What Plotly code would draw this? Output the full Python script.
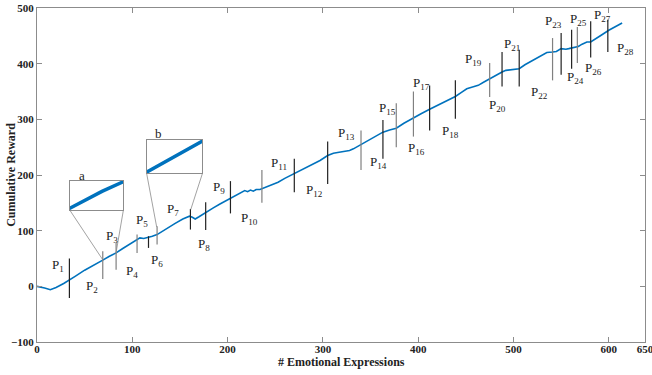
import plotly.graph_objects as go

# ---- data ----
reward_x = [0, 4, 8, 14, 20, 28, 34, 40, 50, 60, 69, 76, 83, 90, 98, 105, 108, 112, 117, 121, 126,
            135, 145, 153, 157, 160, 163, 166, 170, 177, 185, 192, 202, 210, 218, 221, 224, 227, 230,
            234, 240, 247, 253, 260, 270, 280, 290, 297, 305, 311, 317, 323, 328, 332, 336, 341, 350,
            357, 363, 370, 377, 385, 395, 403, 412, 420, 430, 439, 445, 451, 457, 463, 469, 475, 482,
            488, 492, 496, 501, 506, 512, 520, 528, 535, 541, 545, 550, 555, 558, 563, 568, 572, 577,
            581, 586, 592, 600, 607, 614]
reward_y = [0, -1, -3, -6, -2, 5, 11, 18, 29, 38, 47, 54, 60, 68, 76, 83, 87, 86, 88, 90, 93,
            103, 113, 121, 124, 126, 124, 121, 125, 133, 141, 148, 157, 165, 172, 170, 173, 171, 174,
            174, 178, 182, 187, 194, 203, 212, 220, 226, 235, 239, 241, 243, 244, 247, 251, 255, 264,
            271, 277, 281, 284, 293, 303, 310, 318, 325, 333, 341, 348, 355, 358, 361, 367, 373, 380,
            385, 388, 389, 390, 391, 398, 406, 414, 420, 421, 422, 427, 426, 427, 429, 431, 435, 439,
            439, 444, 451, 460, 467, 473]

# phase boundary markers: x position, lower and upper y, shade
mark_x = [34, 69, 83, 105, 117, 126, 161, 177, 203, 236, 270, 305, 340, 363, 377, 395, 412, 439,
          475, 488, 506, 541, 550, 561, 567, 581, 599]
mark_lo = [-21, 13, 30, 60, 69, 75, 102, 101, 131, 150, 169, 184, 209, 229, 250, 269, 280, 301,
           340, 359, 359, 370, 380, 391, 401, 411, 421]
mark_hi = [50, 63, 78, 93, 90, 108, 139, 151, 189, 209, 229, 260, 280, 299, 329, 350, 361, 370,
           401, 421, 425, 446, 455, 461, 466, 476, 479]
mark_dark = [1, 0, 0, 0, 1, 0, 1, 1, 1, 0, 1, 1, 0, 1, 0, 0, 1, 1,
             0, 1, 1, 0, 1, 1, 0, 1, 1]

# phase labels P1..P28 (x, y in data units)
label_n = list(range(1, 29))
label_x = [14, 49, 70, 91, 102, 117, 134, 167, 183, 212, 243, 280, 314, 347, 357, 387, 392, 423,
           447, 472, 488, 516, 531, 554, 557, 573, 582, 606]
label_y = [37, -1, 90, 26, 119, 47, 138, 76, 178, 122, 220, 173, 275, 222, 319, 248, 365, 279,
           407, 325, 434, 349, 476, 376, 480, 391, 486, 428]

x_ticks = [0, 100, 200, 300, 400, 500, 600, 638]
x_ticktext = ["0", "100", "200", "300", "400", "500", "600", "650"]
y_ticks = [-100, 0, 100, 200, 300, 400, 500]

BLUE = "#0072BD"
fig = go.Figure()

fig.add_trace(go.Scatter(x=reward_x, y=reward_y, mode="lines",
                         line=dict(color=BLUE, width=1.6), showlegend=False, hoverinfo="skip"))

for dark, col in [(1, "#222222"), (0, "#808080")]:
    xs, ys = [], []
    for x, lo, hi, d in zip(mark_x, mark_lo, mark_hi, mark_dark):
        if d == dark:
            xs += [x, x, None]
            ys += [lo, hi, None]
    fig.add_trace(go.Scatter(x=xs, y=ys, mode="lines", line=dict(color=col, width=1.2),
                             showlegend=False, hoverinfo="skip"))

# insets
fig.add_trace(go.Scatter(x=reward_x, y=reward_y, mode="lines", xaxis="x2", yaxis="y2",
                         line=dict(color=BLUE, width=3.5), showlegend=False, hoverinfo="skip"))
fig.add_trace(go.Scatter(x=reward_x, y=reward_y, mode="lines", xaxis="x3", yaxis="y3",
                         line=dict(color=BLUE, width=3.5), showlegend=False, hoverinfo="skip"))

for n, x, y in zip(label_n, label_x, label_y):
    fig.add_annotation(x=x, y=y, text=f"P<sub>{n}</sub>", showarrow=False, xanchor="left",
                       yanchor="middle", font=dict(family="Liberation Serif", size=13, color="#222"))

fig.add_annotation(x=0.065, y=0.5, xref="paper", yref="paper", text="a", showarrow=False,
                   font=dict(family="Liberation Serif", size=13, color="#222"))
fig.add_annotation(x=0.19, y=0.624, xref="paper", yref="paper", text="b", showarrow=False,
                   font=dict(family="Liberation Serif", size=13, color="#222"))

# axis titles placed as text
fig.add_annotation(x=-0.043, y=0.5, xref="paper", yref="paper", text="Cumulative Reward",
                   textangle=-90, showarrow=False, xanchor="center", yanchor="middle",
                   font=dict(family="Liberation Serif", size=12, color="#222", weight="bold"))
fig.add_annotation(x=0.5, y=-0.06, xref="paper", yref="paper", text="# Emotional Expressions",
                   showarrow=False, xanchor="center", yanchor="middle",
                   font=dict(family="Liberation Serif", size=12, color="#222", weight="bold"))

# connector lines from insets to the zoomed region
conn = [(34.6, 136.4, 68.9, 48), (90.6, 136.4, 82.9, 59.8),
        (115.1, 202.3, 125.6, 106.5), (173.5, 202.3, 161.3, 137.7)]
for x0, y0, x1, y1 in conn:
    fig.add_shape(type="line", x0=x0, y0=y0, x1=x1, y1=y1, xref="x", yref="y",
                  line=dict(color="#8a8a8a", width=0.8))

tickfont = dict(family="Liberation Serif", size=11, color="#222", weight="bold")
axis_common = dict(showgrid=False, zeroline=False, showline=True, linecolor="#8c8c8c",
                   linewidth=1, mirror="ticks", ticks="inside", ticklen=5, tickcolor="#8c8c8c",
                   tickfont=tickfont, automargin=False, ticklabeloverflow="allow")
inset_axis = dict(showgrid=False, zeroline=False, showline=True, linecolor="#8c8c8c",
                  linewidth=1, mirror=True, showticklabels=False, ticks="")

fig.update_layout(
    width=652, height=375, autosize=False,
    margin=dict(l=37, r=7, t=8, b=33),
    paper_bgcolor="white", plot_bgcolor="white",
    xaxis=dict(range=[0, 638], tickvals=x_ticks, ticktext=x_ticktext,
               ticklabelstandoff=-3, **axis_common),
    yaxis=dict(range=[-100, 500], tickvals=y_ticks, **axis_common),
    xaxis2=dict(domain=[0.0543, 0.1419], range=[70, 80], anchor="y2", **inset_axis),
    yaxis2=dict(domain=[0.395, 0.482], range=[47.3, 57.7], anchor="x2", **inset_axis),
    xaxis3=dict(domain=[0.1804, 0.2719], range=[140, 153], anchor="y3", **inset_axis),
    yaxis3=dict(domain=[0.505, 0.605], range=[107.5, 121.5], anchor="x3", **inset_axis),
)

fig.write_html("out.html", config={"displayModeBar": False},
               post_script="document.body.style.margin='0';document.body.style.overflow='hidden';")
